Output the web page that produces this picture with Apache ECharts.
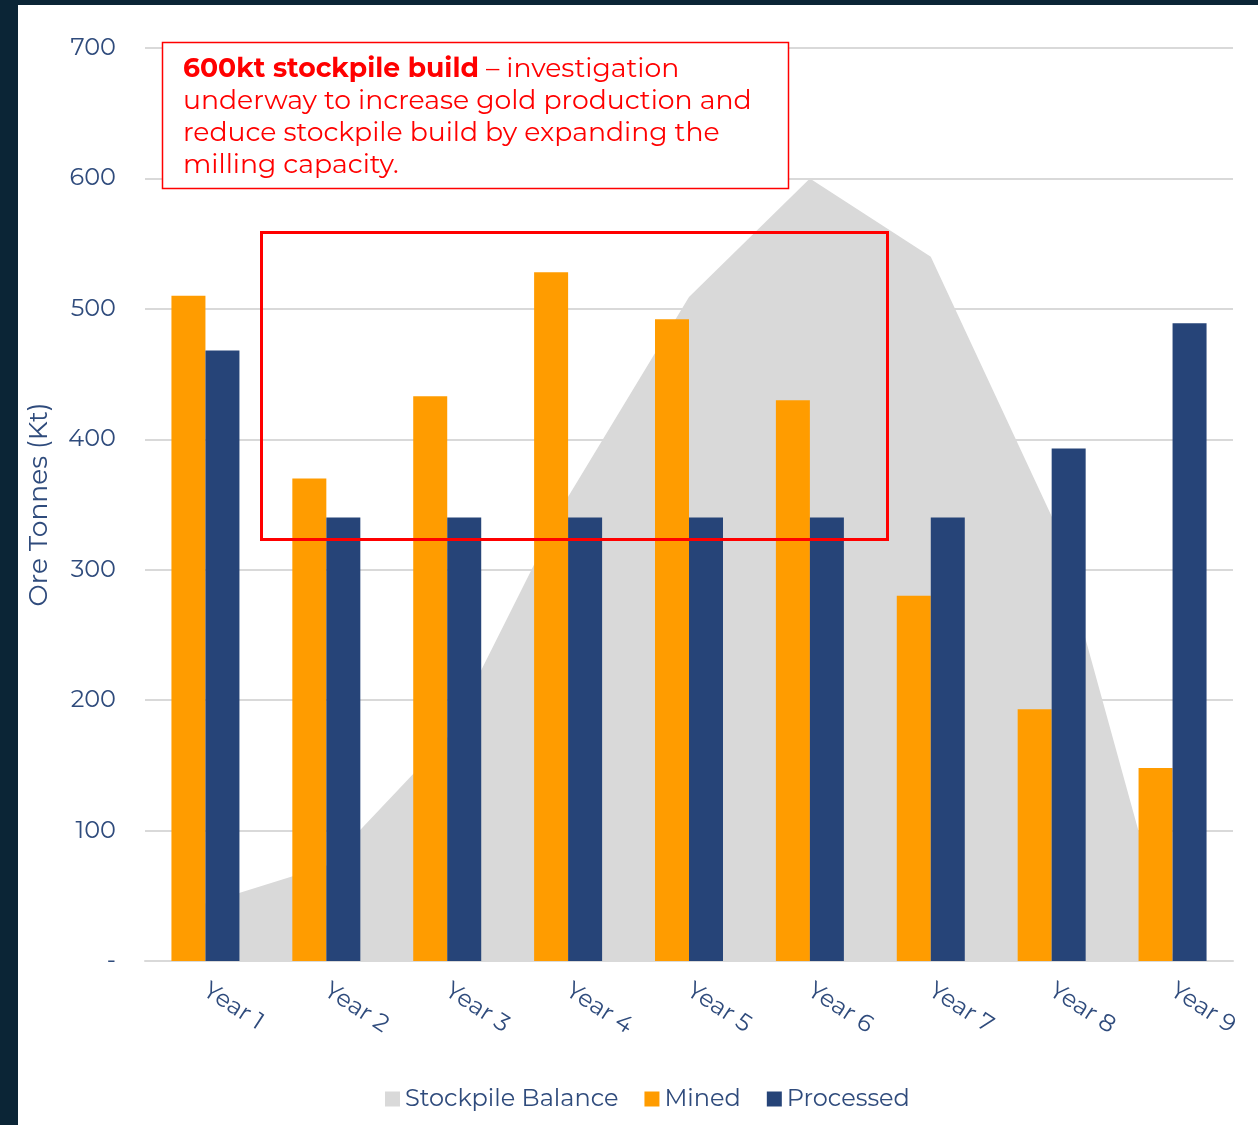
<!DOCTYPE html>
<html>
<head>
<meta charset="utf-8">
<script src="https://cdn.jsdelivr.net/npm/echarts@6/dist/echarts.min.js"></script>
<style>
  html, body { margin: 0; padding: 0; background: #0b2536; width: 1258px; height: 1125px; overflow: hidden; }
  #chart { position: absolute; left: 18px; top: 5px; width: 1240px; height: 1120px; background: #ffffff; }
</style>
</head>
<body>
<div id="chart"></div>
<script>
const categories = ['Year 1', 'Year 2', 'Year 3', 'Year 4', 'Year 5', 'Year 6', 'Year 7', 'Year 8', 'Year 9'];
const stockpileBalance = [44, 73, 171, 356, 509, 600, 540, 341, 5];
const mined = [510, 370, 433, 528, 492, 430, 280, 193, 148];
const processed = [468, 340, 340, 340, 340, 340, 340, 393, 489];
const yTicks = { min: 0, max: 700, interval: 100 };

const FONT = "'Montserrat', 'Open Sans', sans-serif";
const TXT = '#2f4b7c';

const chart = echarts.init(document.getElementById('chart'), null, { renderer: 'canvas' });
chart.setOption({
  animation: false,
  backgroundColor: '#ffffff',
  textStyle: { fontFamily: FONT },
  grid: { left: 125, top: 43, width: 1090, height: 913, containLabel: false },
  legend: {
    bottom: 9,
    left: 362,
    itemWidth: 15,
    itemHeight: 15,
    itemGap: 26,
    icon: 'rect',
    textStyle: { fontFamily: FONT, fontSize: 24, color: TXT },
    data: ['Stockpile Balance', 'Mined', 'Processed']
  },
  xAxis: {
    type: 'category',
    data: categories,
    boundaryGap: true,
    axisLine: { show: true, lineStyle: { color: '#d9d9d9', width: 2 } },
    axisTick: { show: false },
    axisLabel: { rotate: -33, margin: 27, fontSize: 24, color: TXT, fontFamily: FONT, interval: 0 }
  },
  yAxis: {
    type: 'value',
    min: yTicks.min,
    max: yTicks.max,
    interval: yTicks.interval,
    name: 'Ore Tonnes (Kt)',
    nameLocation: 'middle',
    nameGap: 92,
    nameTextStyle: { fontSize: 26.5, color: TXT, fontFamily: FONT },
    axisLine: { show: false },
    axisTick: { show: false },
    axisLabel: {
      margin: 29,
      fontSize: 24,
      color: TXT,
      fontFamily: FONT,
      formatter: v => (v === 0 ? '-' : String(v))
    },
    splitLine: { lineStyle: { color: '#d9d9d9', width: 2 } }
  },
  series: [
    {
      name: 'Stockpile Balance',
      type: 'line',
      data: stockpileBalance,
      symbol: 'none',
      lineStyle: { width: 0 },
      itemStyle: { color: '#d9d9d9' },
      areaStyle: { color: '#d9d9d9', opacity: 1 },
      z: 1
    },
    {
      name: 'Mined',
      type: 'bar',
      data: mined,
      barWidth: 34,
      barGap: '0%',
      itemStyle: { color: '#ff9c00' },
      z: 3
    },
    {
      name: 'Processed',
      type: 'bar',
      data: processed,
      barWidth: 34,
      barGap: '0%',
      itemStyle: { color: '#264478' },
      z: 3
    }
  ],
  graphic: [
    {
      type: 'rect',
      z: 100,
      shape: { x: 144.5, y: 37.5, width: 626, height: 146 },
      style: { fill: '#ffffff', stroke: '#ff0000', lineWidth: 1.5 }
    },
    {
      type: 'text',
      z: 101,
      left: 165,
      top: 48,
      style: {
        text: '{b|600kt stockpile build} – investigation\nunderway to increase gold production and\nreduce stockpile build by expanding the\nmilling capacity.',
        fontFamily: FONT,
        fontSize: 26.7,
        lineHeight: 32,
        fill: '#ff0000',
        rich: {
          b: { fontFamily: FONT, fontSize: 26.7, fontWeight: 'bold', fill: '#ff0000', lineHeight: 32 }
        }
      }
    },
    {
      type: 'rect',
      z: 100,
      shape: { x: 243.5, y: 227.5, width: 626, height: 307 },
      style: { fill: 'none', stroke: '#ff0000', lineWidth: 3 }
    }
  ]
});
</script>
</body>
</html>
